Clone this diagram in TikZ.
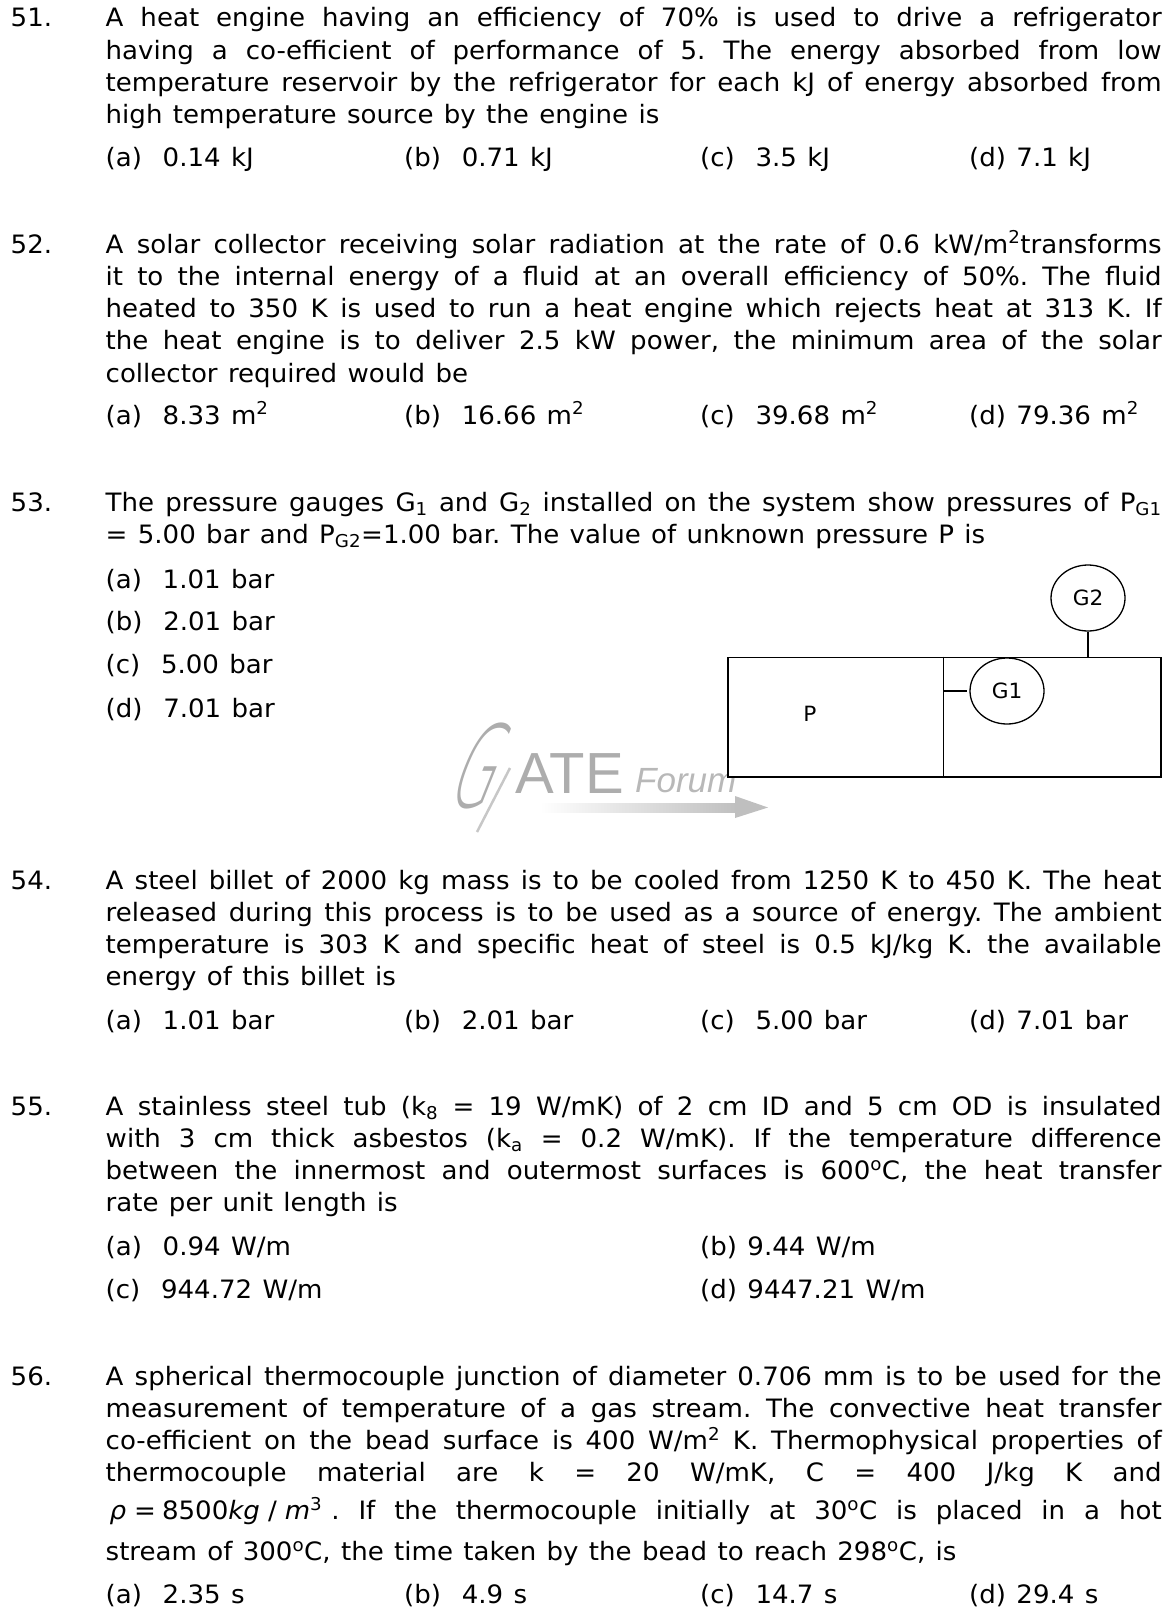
\documentclass[tikz,border=0pt]{standalone}
\usepackage[no-math]{fontspec}
\usepackage{amsmath}
\setmainfont[FakeStretch=1.03,WordSpace=1.25]{DejaVu Sans}
\newfontfamily\markfont{Liberation Sans}
\newfontfamily\markthin[FakeSlant=0.4,FakeStretch=0.48]{DejaVu Sans ExtraLight}
\newcommand{\pw}[1]{\textsuperscript{#1}}
\newcommand{\pb}[1]{\textsubscript{#1}}
\usetikzlibrary{shapes.geometric}
\frenchspacing

\tikzset{
    qtext/.style={anchor=base west,inner sep=0pt,text width=1056pt,align=justify},
    qnum/.style={anchor=base west,inner sep=0pt},
    opt/.style={anchor=base west,inner sep=0pt},
    gauge/.style={draw,line width=1.3pt,ellipse,minimum width=74pt,minimum height=66pt,inner sep=0pt,font=\fontsize{21}{25}\selectfont},
    markcol/.style={text=black!32}
}

\begin{document}
\begin{tikzpicture}[x=1pt,y=-1pt,every node/.append style={font=\fontsize{25.3}{32.3}\selectfont}]

    \useasboundingbox (0,0) rectangle (1171,1608);

    % Question 51
    \node[qnum] (n51) at (10.5,27) {51.};
    \node[qtext] (q51) at (105.5,27) {A heat engine having an efficiency of 70\% is used to drive a refrigerator\linebreak
        having a co-efficient of performance of 5. The energy absorbed from low\linebreak
        temperature reservoir by the refrigerator for each kJ of energy absorbed from\linebreak
        high temperature source by the engine is};
    \node[opt] (a51) at (105.5,167) {(a)\ \ 0.14 kJ};
    \node[opt] (b51) at (404,167) {(b)\ \ 0.71 kJ};
    \node[opt] (c51) at (700,167) {(c)\ \ 3.5 kJ};
    \node[opt] (d51) at (969,167) {(d) 7.1 kJ};

    % Question 52
    \node[qnum] (n52) at (10.5,253) {52.};
    \node[qtext] (q52) at (105.5,253) {A solar collector receiving solar radiation at the rate of 0.6 kW/m\pw{2}transforms\linebreak
        it to the internal energy of a fluid at an overall efficiency of 50\%. The fluid\linebreak
        heated to 350 K is used to run a heat engine which rejects heat at 313 K. If\linebreak
        the heat engine is to deliver 2.5 kW power, the minimum area of the solar\linebreak
        collector required would be};
    \node[opt] (a52) at (105.5,424) {(a)\ \ 8.33 m\pw{2}};
    \node[opt] (b52) at (404,424) {(b)\ \ 16.66 m\pw{2}};
    \node[opt] (c52) at (700,424) {(c)\ \ 39.68 m\pw{2}};
    \node[opt] (d52) at (969,424) {(d) 79.36 m\pw{2}};

    % Question 53
    \node[qnum] (n53) at (10.5,511) {53.};
    \node[qtext] (q53) at (105.5,511) {The pressure gauges G\pb{1} and G\pb{2} installed on the system show pressures of P\pb{G1}\linebreak
        = 5.00 bar and P\pb{G2}=1.00 bar. The value of unknown pressure P is};
    \node[opt] (a53) at (105.5,588) {(a)\ \ 1.01 bar};
    \node[opt] (b53) at (105.5,630) {(b)\ \ 2.01 bar};
    \node[opt] (c53) at (105.5,673) {(c)\ \ 5.00 bar};
    \node[opt] (d53) at (105.5,717) {(d)\ \ 7.01 bar};

    % Draw the watermark under the vessel
    \node[opt,text=black!32,font=\markthin\fontsize{114}{114}\selectfont] (logoG) at (444,807) {G};
    \draw[black!22,line width=2.5pt] (510,768) -- (477,832);
    \node[opt,markcol,font=\markfont\fontsize{58}{58}\selectfont] (logoA) at (515,793) {ATE};
    \node[opt,text=black!28,font=\markfont\itshape\fontsize{35}{35}\selectfont] (logoF) at (635,792) {Forum};
    \shade[left color=white,right color=black!25] (540,803) rectangle (737,812);
    \fill[black!25] (735,796) -- (768,807.5) -- (735,818) -- cycle;

    % Draw the vessel and the gauges
    \node[draw,line width=1.5pt,fill=white,minimum width=433pt,minimum height=119.5pt,inner sep=0pt] (vessel) at (944.5,717) {};
    \draw[line width=1.4pt] (vessel.north west) ++(216,0) coordinate (wallT) -- (wallT |- vessel.south);
    \node[font=\fontsize{21}{25}\selectfont,inner sep=0pt] (P) at (810,714) {P};
    \node[gauge] (G1) at (1007,691) {G1};
    \node[gauge] (G2) at (1088,598) {G2};
    \draw[line width=1.3pt] (G2.south) -- (G2.south |- vessel.north);
    \draw[line width=1.3pt] (wallT |- G1.west) -- ([xshift=-2pt]G1.west);

    % Question 54
    \node[qnum] (n54) at (10.5,889) {54.};
    \node[qtext] (q54) at (105.5,889) {A steel billet of 2000 kg mass is to be cooled from 1250 K to 450 K. The heat\linebreak
        released during this process is to be used as a source of energy. The ambient\linebreak
        temperature is 303 K and specific heat of steel is 0.5 kJ/kg K. the available\linebreak
        energy of this billet is};
    \node[opt] (a54) at (105.5,1029) {(a)\ \ 1.01 bar};
    \node[opt] (b54) at (404,1029) {(b)\ \ 2.01 bar};
    \node[opt] (c54) at (700,1029) {(c)\ \ 5.00 bar};
    \node[opt] (d54) at (969,1029) {(d) 7.01 bar};

    % Question 55
    \node[qnum] (n55) at (10.5,1115) {55.};
    \node[qtext] (q55) at (105.5,1115) {A stainless steel tub (k\pb{8} = 19 W/mK) of 2 cm ID and 5 cm OD is insulated\linebreak
        with 3 cm thick asbestos (k\pb{a} = 0.2 W/mK). If the temperature difference\linebreak
        between the innermost and outermost surfaces is 600\pw{o}C, the heat transfer\linebreak
        rate per unit length is};
    \node[opt] (a55) at (105.5,1255) {(a)\ \ 0.94 W/m};
    \node[opt] (b55) at (700,1255) {(b) 9.44 W/m};
    \node[opt] (c55) at (105.5,1298) {(c)\ \ 944.72 W/m};
    \node[opt] (d55) at (700,1298) {(d) 9447.21 W/m};

    % Question 56
    \node[qnum] (n56) at (10.5,1385) {56.};
    \node[qtext] (q56) at (105.5,1385) {A spherical thermocouple junction of diameter 0.706 mm is to be used for the\linebreak
        measurement of temperature of a gas stream. The convective heat transfer\linebreak
        co-efficient on the bead surface is 400 W/m\pw{2} K. Thermophysical properties of\linebreak
        thermocouple material are k = 20 W/mK, C = 400 J/kg K and\vadjust{\vskip 5pt}\linebreak
        \mbox{\kern4pt{\itshape ρ}\kern8pt=\kern6pt8500{\itshape kg}\kern8pt/\kern8pt{\itshape m}\pw{3}\kern9pt.} If the thermocouple initially at 30\pw{o}C is placed in a hot\vadjust{\vskip 9pt}\linebreak
        stream of 300\pw{o}C, the time taken by the bead to reach 298\pw{o}C, is};
    \node[opt] (a56) at (105.5,1603) {(a)\ \ 2.35 s};
    \node[opt] (b56) at (404,1603) {(b)\ \ 4.9 s};
    \node[opt] (c56) at (700,1603) {(c)\ \ 14.7 s};
    \node[opt] (d56) at (969,1603) {(d) 29.4 s};

\end{tikzpicture}
\end{document}
